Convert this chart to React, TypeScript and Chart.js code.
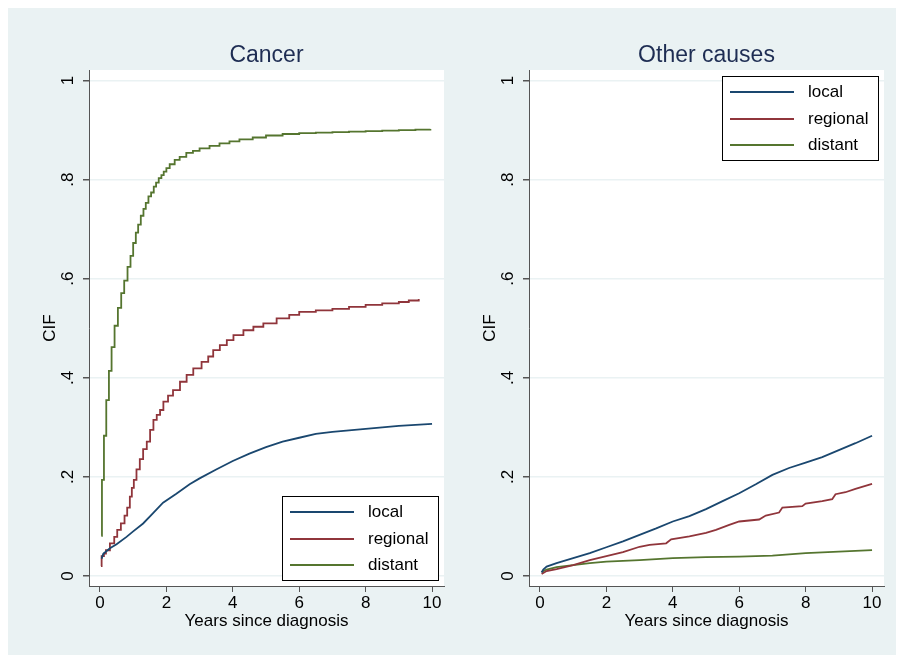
import React, { useEffect, useRef } from "react";
import { Chart, registerables } from "chart.js";

Chart.register(...registerables);

// ---------- data ----------
const seriesLabels = ["local", "regional", "distant"];
const seriesColors = ["#1A476F", "#90353B", "#55752F"];

const xTickValues = [0, 2, 4, 6, 8, 10];
const yTickValues = [0, 0.2, 0.4, 0.6, 0.8, 1];
const yTickLabels = ["0", ".2", ".4", ".6", ".8", "1"];

// Cancer panel
const cancerLocalT = [0.05, 0.1, 0.3, 0.5, 0.8, 1.0, 1.3, 1.6, 1.9, 2.3, 2.7, 3.0, 3.5, 4.0, 4.5, 5.0, 5.5, 6.0, 6.5, 7.0, 7.5, 8.0, 8.5, 9.0, 9.5, 10.0];
const cancerLocalV = [0.035, 0.045, 0.056, 0.064, 0.079, 0.09, 0.106, 0.127, 0.148, 0.166, 0.185, 0.197, 0.215, 0.232, 0.247, 0.26, 0.271, 0.279, 0.287, 0.291, 0.294, 0.297, 0.3, 0.303, 0.305, 0.307];

const cancerRegionalT = [0.03, 0.05, 0.12, 0.18, 0.3, 0.43, 0.52, 0.63, 0.74, 0.82, 0.9, 0.96, 1.02, 1.1, 1.2, 1.3, 1.41, 1.51, 1.61, 1.71, 1.81, 1.91, 2.05, 2.2, 2.41, 2.61, 2.81, 3.06, 3.26, 3.41, 3.61, 3.82, 4.02, 4.32, 4.62, 4.92, 5.32, 5.7, 6.0, 6.5, 7.0, 7.5, 8.0, 8.5, 9.0, 9.3, 9.6];
const cancerRegionalV = [0.02, 0.04, 0.045, 0.052, 0.066, 0.079, 0.093, 0.106, 0.122, 0.138, 0.16, 0.178, 0.194, 0.215, 0.236, 0.256, 0.271, 0.295, 0.315, 0.325, 0.335, 0.352, 0.364, 0.375, 0.392, 0.406, 0.419, 0.432, 0.443, 0.456, 0.466, 0.476, 0.486, 0.496, 0.503, 0.51, 0.52, 0.527, 0.533, 0.536, 0.539, 0.543, 0.547, 0.55, 0.553, 0.556, 0.559];

const cancerDistantT = [0.04, 0.06, 0.12, 0.19, 0.27, 0.35, 0.44, 0.54, 0.64, 0.73, 0.83, 0.92, 1.0, 1.08, 1.15, 1.23, 1.31, 1.38, 1.46, 1.54, 1.62, 1.69, 1.77, 1.85, 1.92, 2.0, 2.1, 2.25, 2.4, 2.6, 2.8, 3.0, 3.3, 3.6, 3.9, 4.2, 4.6, 5.0, 5.5, 6.0, 6.5, 7.0, 7.5, 8.0, 8.5, 9.0, 9.5, 9.95];
const cancerDistantV = [0.081, 0.194, 0.283, 0.355, 0.414, 0.462, 0.505, 0.541, 0.571, 0.596, 0.624, 0.646, 0.672, 0.693, 0.709, 0.727, 0.741, 0.753, 0.766, 0.774, 0.786, 0.794, 0.803, 0.809, 0.816, 0.823, 0.831, 0.84, 0.846, 0.854, 0.858, 0.863, 0.868, 0.873, 0.877, 0.881, 0.885, 0.889, 0.892, 0.894, 0.895, 0.896, 0.897, 0.898, 0.899, 0.9, 0.901, 0.902];

// Other causes panel
const otherLocalT = [0.05, 0.1, 0.2, 0.5, 1, 1.5, 2, 2.5, 3, 3.5, 4, 4.5, 5, 5.5, 6, 6.5, 7, 7.5, 8, 8.5, 9, 9.5, 10];
const otherLocalV = [0.007, 0.013, 0.019, 0.026, 0.036, 0.046, 0.058, 0.07, 0.083, 0.096, 0.11, 0.121, 0.135, 0.151, 0.167, 0.185, 0.204, 0.218, 0.229, 0.24, 0.254, 0.268, 0.283];

const otherRegionalT = [0.05, 0.2, 0.5, 1, 1.5, 2, 2.5, 3, 3.3, 3.8, 3.95, 4.5, 5, 5.3, 5.7, 6, 6.6, 6.8, 7.2, 7.3, 7.9, 8.0, 8.5, 8.8, 8.9, 9.2, 9.5, 10];
const otherRegionalV = [0.004, 0.01, 0.014, 0.022, 0.032, 0.04, 0.048, 0.059, 0.063, 0.066, 0.074, 0.08, 0.087, 0.093, 0.103, 0.11, 0.114, 0.122, 0.128, 0.138, 0.141, 0.146, 0.151, 0.155, 0.165, 0.169, 0.176, 0.186];

const otherDistantT = [0.05, 0.2, 0.5, 1, 1.5, 2, 3, 4, 5, 6, 7, 8, 9, 10];
const otherDistantV = [0.008, 0.013, 0.018, 0.022, 0.026, 0.029, 0.032, 0.036, 0.038, 0.039, 0.041, 0.046, 0.049, 0.052];

// ---------- helpers ----------
const FONT = "'Liberation Sans', Arial, Helvetica, sans-serif";
const X_MIN = -0.33;
const X_MAX = 10.36;
const Y_MIN = -0.0202;
const Y_MAX = 1.0212;

const toPoints = (t: number[], v: number[]) => t.map((x, i) => ({ x, y: v[i] }));

type PanelProps = {
  title: string;
  series: { t: number[]; v: number[]; stepped: boolean }[];
  legendCorner: "bottom" | "top";
  padLeft: number;
  padRight: number;
};

function Panel({ title, series, legendCorner, padLeft, padRight }: PanelProps) {
  const ref = useRef<HTMLCanvasElement | null>(null);

  useEffect(() => {
    if (!ref.current) return;
    const decor = {
      id: "decor",
      beforeDraw(chart: any) {
        const { ctx, chartArea: ca } = chart;
        ctx.save();
        ctx.fillStyle = "#FFFFFF";
        ctx.fillRect(ca.left, ca.top, ca.right - ca.left, ca.bottom - ca.top);
        ctx.restore();
      },
      afterDraw(chart: any) {
        const { ctx, chartArea: ca } = chart;
        ctx.save();
        // panel title
        ctx.font = `23px ${FONT}`;
        ctx.fillStyle = "#1E2D53";
        ctx.textAlign = "center";
        ctx.textBaseline = "alphabetic";
        ctx.fillText(title, (ca.left + ca.right) / 2, 53.5);
        // legend
        const bw = 156;
        const bh = 84;
        const bx = Math.round(ca.right - 6 - bw);
        const by = legendCorner === "bottom" ? Math.round(ca.bottom - 6 - bh) : Math.round(ca.top + 6);
        ctx.fillStyle = "#FFFFFF";
        ctx.fillRect(bx, by, bw, bh);
        ctx.strokeStyle = "#000000";
        ctx.lineWidth = 1;
        ctx.strokeRect(bx + 0.5, by + 0.5, bw, bh);
        const rows = [16, 43, 69];
        chart.data.datasets.forEach((ds: any, i: number) => {
          const yy = by + rows[i];
          ctx.strokeStyle = ds.borderColor;
          ctx.lineWidth = 1.8;
          ctx.beginPath();
          ctx.moveTo(bx + 8, yy);
          ctx.lineTo(bx + 72, yy);
          ctx.stroke();
          ctx.fillStyle = "#000000";
          ctx.font = `17px ${FONT}`;
          ctx.textAlign = "left";
          ctx.textBaseline = "middle";
          ctx.fillText(ds.label, bx + 86, yy);
        });
        ctx.restore();
      },
    };

    const chart = new Chart(ref.current, {
      type: "line",
      data: {
        datasets: series.map((s, i) => ({
          label: seriesLabels[i],
          data: toPoints(s.t, s.v),
          borderColor: seriesColors[i],
          backgroundColor: seriesColors[i],
          borderWidth: 1.8,
          pointRadius: 0,
          stepped: s.stepped,
          tension: 0,
          fill: false,
        })),
      },
      options: {
        animation: false,
        responsive: false,
        devicePixelRatio: 1,
        layout: { padding: { left: padLeft, right: padRight, top: 62, bottom: 0 } },
        plugins: {
          legend: { display: false },
          tooltip: { enabled: false },
          title: { display: false },
        },
        scales: {
          x: {
            type: "linear",
            min: X_MIN,
            max: X_MAX,
            bounds: "data",
            afterBuildTicks: (s: any) => {
              s.ticks = xTickValues.map((v) => ({ value: v }));
            },
            afterFit: (s: any) => {
              s.height = 69;
            },
            ticks: {
              callback: (v: any) => String(v),
              font: { size: 17, family: FONT },
              color: "#000000",
              padding: 1,
              maxRotation: 0,
              autoSkip: false,
            },
            grid: { drawOnChartArea: false, tickLength: 6, tickColor: "#555555", lineWidth: 1 },
            border: { color: "#555555", width: 1 },
            title: {
              display: true,
              text: "Years since diagnosis",
              font: { size: 17, family: FONT },
              color: "#000000",
              padding: { top: 0, bottom: 23.5 },
            },
          },
          y: {
            type: "linear",
            min: Y_MIN,
            max: Y_MAX,
            bounds: "data",
            afterBuildTicks: (s: any) => {
              s.ticks = yTickValues.map((v) => ({ value: v }));
            },
            afterFit: (s: any) => {
              s.width = 77;
            },
            ticks: {
              callback: (_v: any, idx: number) => yTickLabels[idx],
              font: { size: 17, family: FONT },
              color: "#000000",
              padding: 8,
              minRotation: 90,
              maxRotation: 90,
              crossAlign: "center",
              autoSkip: false,
            },
            grid: { color: "#EAF2F3", lineWidth: 1.5, tickLength: 6, tickColor: "#555555" },
            border: { color: "#555555", width: 1 },
            title: {
              display: true,
              text: "CIF",
              font: { size: 17, family: FONT },
              color: "#000000",
              padding: { top: 27.8, bottom: 0 },
            },
          },
        },
      } as any,
      plugins: [decor],
    });
    return () => chart.destroy();
  }, []);

  return <canvas ref={ref} width={444} height={647} style={{ display: "block", width: 444, height: 647 }} />;
}

export default function App() {
  return (
    <div style={{ width: 888, height: 647, background: "#EAF2F3", display: "flex" }}>
      <Panel
        title="Cancer"
        legendCorner="bottom"
        padLeft={4}
        padRight={8}
        series={[
          { t: cancerLocalT, v: cancerLocalV, stepped: false },
          { t: cancerRegionalT, v: cancerRegionalV, stepped: true },
          { t: cancerDistantT, v: cancerDistantV, stepped: true },
        ]}
      />
      <Panel
        title="Other causes"
        legendCorner="top"
        padLeft={0}
        padRight={12}
        series={[
          { t: otherLocalT, v: otherLocalV, stepped: false },
          { t: otherRegionalT, v: otherRegionalV, stepped: false },
          { t: otherDistantT, v: otherDistantV, stepped: false },
        ]}
      />
    </div>
  );
}
